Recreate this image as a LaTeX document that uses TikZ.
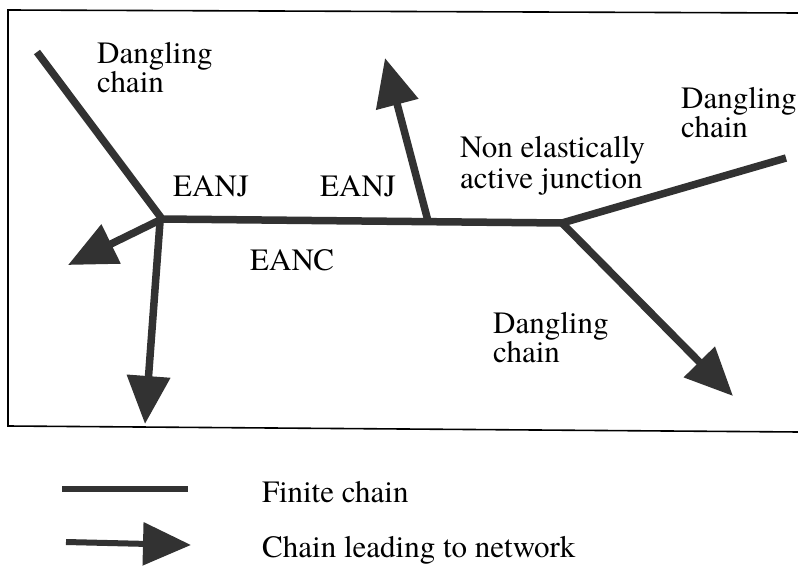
\documentclass[tikz,border=0pt]{standalone}
\usepackage{fontspec}
\setmainfont{texgyretermes-regular.otf}
\usetikzlibrary{arrows.meta}
\definecolor{chainink}{RGB}{50,50,50}
\begin{document}
\begin{tikzpicture}[x=1pt,y=-1pt,
  chain/.style={draw=chainink, line width=7.5pt, line join=round},
  netchain/.style={chain, -{Triangle[length=48pt,width=42pt]}},
  txt/.style={anchor=base west, inner sep=0pt, font=\fontsize{31}{32}\selectfont},
  frame/.style={draw=black, line width=1.6pt}]
\useasboundingbox (0,0) rectangle (798,573);

% frame around the network sketch (open on the right)
\coordinate (fTR) at (800,13);
\coordinate (fTL) at (8,10);
\coordinate (fBL) at (8,426);
\coordinate (fBR) at (800,432);
\draw[frame] (fTR) -- (fTL) -- (fBL) -- (fBR);

% junctions
\coordinate (j1) at (162,219);
\coordinate (j2) at (428,221);
\coordinate (j3) at (562,223);
% free chain ends
\coordinate (dl) at (37,52);
\coordinate (dr) at (786,158);
\coordinate (up) at (385,58);
\coordinate (lf) at (68,265);
\coordinate (dn) at (145,424);
\coordinate (dd) at (733,396);
\coordinate (j1b) at (160,222);

% finite chains
\draw[chain] (dl) -- (j1) -- (j3) -- (dr);
% chains leading to the network
\draw[netchain] (j1) -- (lf);
\draw[netchain] (j1b) -- (dn);
\draw[netchain] (j2) -- (up);
\draw[netchain] (j3) -- (dd);

% labels
\node[txt] (t1a) at (97,63) {Dangling};
\node[txt] (t1b) at (97,92) {chain};
\node[txt] (t2) at (173,196) {EANJ};
\node[txt] (t3) at (320,196) {EANJ};
\node[txt] (t4) at (250,270) {EANC};
\node[txt] (t5a) at (460,157) {Non elastically};
\node[txt] (t5b) at (460,188) {active junction};
\node[txt] (t6a) at (681,108) {Dangling};
\node[txt] (t6b) at (681,137) {chain};
\node[txt] (t7a) at (493,333) {Dangling};
\node[txt] (t7b) at (493,362) {chain};

% legend
\coordinate (la) at (62,489);
\coordinate (lb) at (188,489);
\draw[chain, line width=6pt] (la) -- (lb);
\node[txt] (l1) at (262,502) {Finite chain};
\coordinate (ma) at (66,542);
\coordinate (mb) at (191,545);
\draw[netchain, line width=6pt] (ma) -- (mb);
\node[txt] (l2) at (262,557) {Chain leading to network};
\end{tikzpicture}
\end{document}
